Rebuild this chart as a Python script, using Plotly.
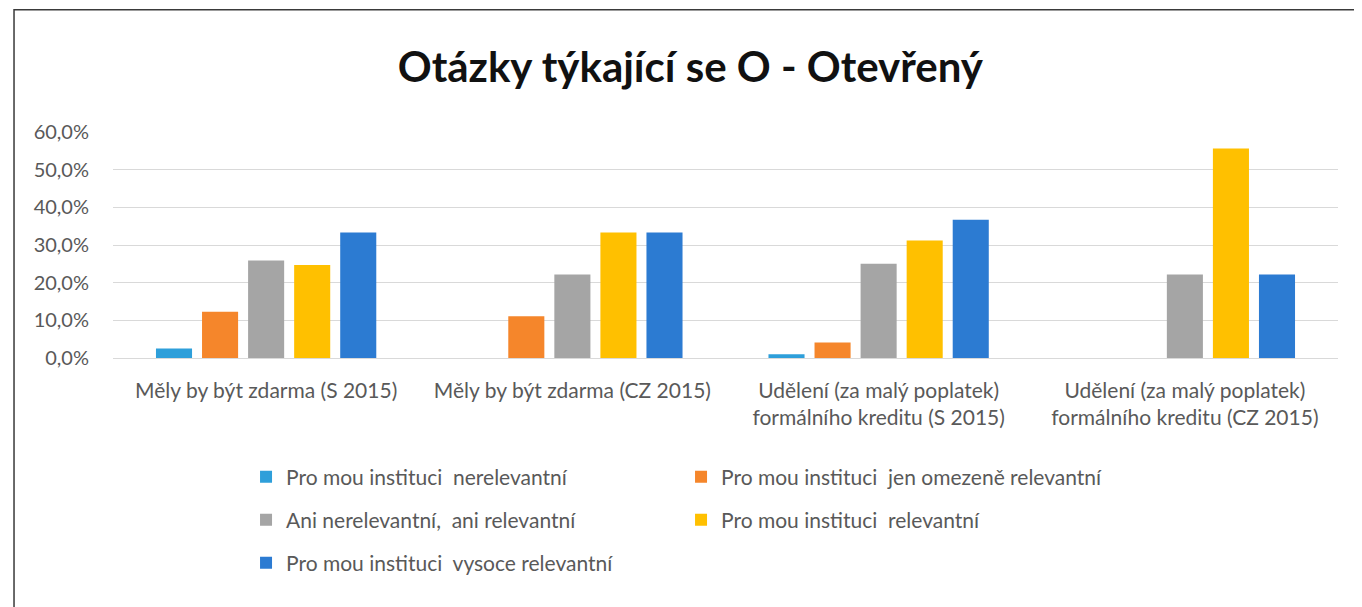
import plotly.graph_objects as go

categories = [
    "Měly by být zdarma (S 2015)",
    "Měly by být zdarma (CZ 2015)",
    "Udělení (za malý poplatek)<br>formálního kreditu (S 2015)",
    "Udělení (za malý poplatek)<br>formálního kreditu (CZ 2015)",
]
series_names = [
    "Pro mou instituci  nerelevantní",
    "Pro mou instituci  jen omezeně relevantní",
    "Ani nerelevantní,  ani relevantní",
    "Pro mou instituci  relevantní",
    "Pro mou instituci  vysoce relevantní",
]
nerelevantni = [2.5, 0.0, 1.0, 0.0]
omezene = [12.3, 11.1, 4.1, 0.0]
ani = [25.9, 22.2, 25.0, 22.2]
relevantni = [24.7, 33.3, 31.2, 55.6]
vysoce = [33.3, 33.3, 36.7, 22.2]
y_ticks = [0, 10, 20, 30, 40, 50, 60]
y_tick_labels = ["0,0%", "10,0%", "20,0%", "30,0%", "40,0%", "50,0%", "60,0%"]

series_values = [nerelevantni, omezene, ani, relevantni, vysoce]
colors = ["#2E9FDA", "#F5862B", "#A5A5A5", "#FFC000", "#2C7BD2"]
legends = ["legend", "legend", "legend2", "legend2", "legend3"]

FONT = "Lato"
GRAY = "#595959"

fig = go.Figure()
for name, vals, col, lg in zip(series_names, series_values, colors, legends):
    fig.add_trace(go.Bar(
        x=categories, y=vals, name=name, marker_color=col,
        marker_line_width=0, legend=lg,
        hovertemplate="%{y:.1f}%<extra>" + name + "</extra>",
    ))

def leg(y):
    return dict(
        orientation="h", x=0.1086, xanchor="left", y=y, yanchor="middle",
        entrywidth=390, entrywidthmode="pixels",
        font=dict(family=FONT, size=21, color=GRAY),
        bgcolor="rgba(0,0,0,0)", itemclick=False,
    )

fig.update_layout(
    width=1362, height=607,
    margin=dict(l=105, r=32, t=124, b=257),
    paper_bgcolor="white", plot_bgcolor="white",
    separators=", ",
    barmode="group", bargap=0.248, bargroupgap=0.217,
    title=dict(text="<b>Otázky týkající se O - Otevřený</b>",
               x=0.501, xanchor="center", xref="container",
               y=0.902, yanchor="middle", yref="container",
               font=dict(family=FONT, size=42, color="#111111")),
    font=dict(family=FONT, color=GRAY),
    showlegend=True,
    legend=leg(-0.5265),
    legend2=leg(-0.717),
    legend3=leg(-0.907),
    xaxis=dict(showgrid=False, showline=False, ticks="", ticklabelstandoff=18,
               tickfont=dict(family=FONT, size=21, color=GRAY)),
    yaxis=dict(range=[0, 60], tickvals=y_ticks, ticktext=y_tick_labels,
               showgrid=True, gridcolor="#D9D9D9", gridwidth=1,
               zeroline=True, zerolinecolor="#D9D9D9", zerolinewidth=1,
               showline=False, ticks="", ticklabelstandoff=23,
               tickfont=dict(family=FONT, size=20, color=GRAY)),
    shapes=[dict(type="rect", xref="paper", yref="paper",
                 x0=-0.0808, x1=1.05, y0=-1.3, y1=1.541,
                 line=dict(color="#3A3A3A", width=1.5), layer="above")],
)

fig.write_html("out.html")
